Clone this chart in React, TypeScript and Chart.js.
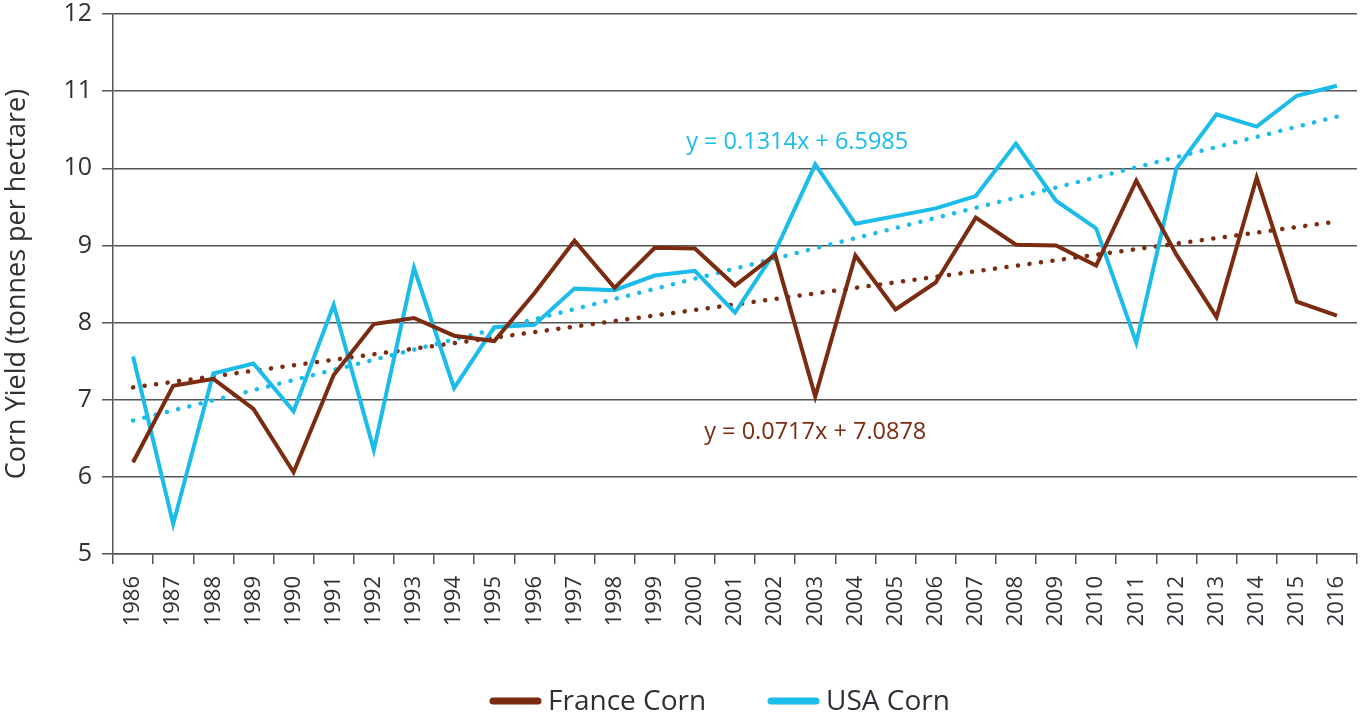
import React, { useEffect, useRef } from "react";
import { Chart, registerables } from "chart.js";

Chart.register(...registerables);

const years = [
  "1986", "1987", "1988", "1989", "1990", "1991", "1992", "1993", "1994", "1995",
  "1996", "1997", "1998", "1999", "2000", "2001", "2002", "2003", "2004", "2005",
  "2006", "2007", "2008", "2009", "2010", "2011", "2012", "2013", "2014", "2015", "2016",
];

const franceCorn = [
  6.19, 7.18, 7.27, 6.88, 6.06, 7.32, 7.98, 8.06, 7.83, 7.76,
  8.38, 9.06, 8.45, 8.97, 8.96, 8.48, 8.88, 7.04, 8.87, 8.17,
  8.52, 9.36, 9.01, 9.0, 8.74, 9.84, 8.88, 8.07, 9.88, 8.27, 8.09,
];

const usaCorn = [
  7.56, 5.39, 7.34, 7.47, 6.85, 8.23, 6.35, 8.71, 7.15, 7.94,
  7.97, 8.44, 8.42, 8.61, 8.67, 8.13, 8.92, 10.05, 9.28, 9.38,
  9.48, 9.64, 10.32, 9.58, 9.22, 7.74, 10.0, 10.7, 10.54, 10.94, 11.07,
];

// trend line end points (first and last year)
const franceTrendEnds = [7.16, 9.31];
const usaTrendEnds = [6.73, 10.67];

const franceEquation = "y = 0.0717x + 7.0878";
const usaEquation = "y = 0.1314x + 6.5985";

const FRANCE = "#7A2B10";
const USA = "#1BBBEA";
const TEXT = "#2e3035";
const FONT = "'Open Sans', 'DejaVu Sans', sans-serif";

const equationPlugin = {
  id: "equations",
  afterDatasetsDraw(chart: any) {
    const { ctx, scales } = chart;
    const x = scales.x;
    const y = scales.y;
    ctx.save();
    ctx.font = `23.5px ${FONT}`;
    ctx.textAlign = "center";
    ctx.textBaseline = "middle";
    ctx.fillStyle = USA;
    ctx.fillText(usaEquation, x.getPixelForValue(16.55), y.getPixelForValue(10.34));
    ctx.fillStyle = FRANCE;
    ctx.fillText(franceEquation, x.getPixelForValue(17.0), y.getPixelForValue(6.58));
    ctx.restore();
  },
};

// legend drawn below the axis: line sample + label for each main series
const legendPlugin = {
  id: "bottomLegend",
  afterDraw(chart: any) {
    const { ctx } = chart;
    const items = [
      { label: chart.data.datasets[0].label, color: chart.data.datasets[0].borderColor, x: 490 },
      { label: chart.data.datasets[1].label, color: chart.data.datasets[1].borderColor, x: 768 },
    ];
    const cy = 702;
    ctx.save();
    ctx.font = `28px ${FONT}`;
    ctx.textBaseline = "middle";
    ctx.textAlign = "left";
    for (const it of items) {
      ctx.strokeStyle = it.color;
      ctx.lineWidth = 7;
      ctx.lineCap = "round";
      ctx.beginPath();
      ctx.moveTo(it.x + 3, cy - 1);
      ctx.lineTo(it.x + 48, cy - 1);
      ctx.stroke();
      ctx.fillStyle = TEXT;
      ctx.fillText(it.label, it.x + 58, cy);
    }
    ctx.restore();
  },
};

export default function App() {
  const ref = useRef<HTMLCanvasElement | null>(null);

  useEffect(() => {
    document.body.style.margin = "0";
    if (!ref.current) return;
    const chart = new Chart(ref.current, {
      type: "line",
      data: {
        labels: years,
        datasets: [
          {
            label: "France Corn",
            data: franceCorn,
            borderColor: FRANCE,
            backgroundColor: FRANCE,
            borderWidth: 4,
            pointRadius: 0,
            tension: 0,
            order: 1,
          },
          {
            label: "USA Corn",
            data: usaCorn,
            borderColor: USA,
            backgroundColor: USA,
            borderWidth: 4,
            pointRadius: 0,
            tension: 0,
            order: 2,
          },
          {
            label: "France trend",
            data: [
              { x: years[0], y: franceTrendEnds[0] },
              { x: years[years.length - 1], y: franceTrendEnds[1] },
            ] as any,
            borderColor: FRANCE,
            borderWidth: 4.5,
            borderDash: [0.1, 11.5],
            borderCapStyle: "round",
            pointRadius: 0,
            order: 3,
          },
          {
            label: "USA trend",
            data: [
              { x: years[0], y: usaTrendEnds[0] },
              { x: years[years.length - 1], y: usaTrendEnds[1] },
            ] as any,
            borderColor: USA,
            borderWidth: 4.5,
            borderDash: [0.1, 11.5],
            borderCapStyle: "round",
            pointRadius: 0,
            order: 4,
          },
        ],
      },
      options: {
        animation: false,
        responsive: false,
        maintainAspectRatio: false,
        layout: { padding: { left: 0, right: 6, top: 0, bottom: 76 } },
        plugins: {
          tooltip: { enabled: false },
          legend: { display: false },
        },
        scales: {
          x: {
            type: "category",
            offset: true,
            grid: {
              offset: true,
              drawOnChartArea: false,
              drawTicks: true,
              tickLength: 10,
              color: "#555",
              lineWidth: 1.5,
            },
            border: { display: true, color: "#555", width: 1.5 },
            ticks: {
              color: TEXT,
              font: { family: FONT, size: 22 },
              minRotation: 90,
              maxRotation: 90,
              autoSkip: false,
              padding: 12,
            },
            afterFit: (s: any) => {
              s.height = 84;
              s.paddingLeft = 0;
              s.paddingRight = 0;
            },
          },
          y: {
            min: 5,
            max: 12,
            grid: {
              color: "#555",
              lineWidth: 1.5,
              tickLength: 11,
            },
            border: { display: true, color: "#555", width: 1.5 },
            ticks: {
              stepSize: 1,
              color: TEXT,
              font: { family: FONT, size: 25 },
              padding: 10,
            },
            title: {
              display: true,
              text: "Corn Yield (tonnes per hectare)",
              color: TEXT,
              font: { family: FONT, size: 27 },
              padding: { top: 1, bottom: 0 },
            },
            afterFit: (s: any) => {
              s.width = 113;
              s.paddingTop = 14;
              s.paddingBottom = 0;
            },
          },
        },
      },
      plugins: [equationPlugin, legendPlugin],
    });
    return () => chart.destroy();
  }, []);

  return (
    <div style={{ width: 1363, height: 714 }}>
      <canvas ref={ref} width={1363} height={714} style={{ display: "block" }} />
    </div>
  );
}
